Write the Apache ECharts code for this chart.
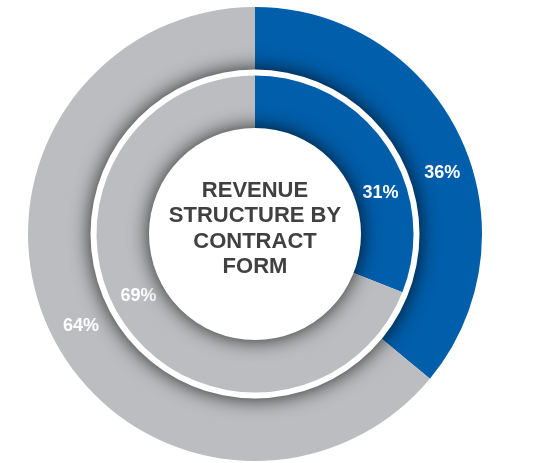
<!DOCTYPE html>
<html>
<head>
<meta charset="utf-8">
<title>Revenue structure by contract form</title>
<script src="https://cdn.jsdelivr.net/npm/echarts@6/dist/echarts.min.js"></script>
<style>
  html, body { margin: 0; padding: 0; background: #ffffff; }
  #chart { width: 540px; height: 463px; }
</style>
</head>
<body>
<div id="chart"></div>
<script>
// Revenue split by contract form: outer ring and inner ring
const categories = ['Contract form A', 'Contract form B'];
const outerValues = [36, 64];
const innerValues = [31, 69];
const centerTitle = ['REVENUE', 'STRUCTURE BY', 'CONTRACT', 'FORM'];

const BLUE = '#005EAB';
const GREY = '#BCBDC0';
const CX = 255, CY = 234;

const OUTER_R = [160, 227];
const GAP_R = 164.5;
const INNER_R = [100, 158.5];
const HOLE_R = 106;

// Bearing (deg clockwise from 12 o'clock) at which each slice's label sits
const LABEL_BEARING = [72, 242];

function ringLabelLayout(radius) {
  return function (params) {
    const a = LABEL_BEARING[params.dataIndex] * Math.PI / 180;
    return {
      x: CX + radius * Math.sin(a),
      y: CY - radius * Math.cos(a),
      align: 'center',
      verticalAlign: 'middle'
    };
  };
}

const labelStyle = {
  show: true,
  position: 'inside',
  formatter: '{c}%',
  color: '#ffffff',
  fontFamily: 'Liberation Sans, Arial, sans-serif',
  fontWeight: 'bold',
  fontSize: 18
};

function ringData(values) {
  return values.map((v, i) => ({
    name: categories[i],
    value: v,
    itemStyle: { color: i === 0 ? BLUE : GREY }
  }));
}

// White disk that casts a soft shadow onto the ring beneath it
function whiteDisk(r, z) {
  return {
    type: 'pie',
    center: [CX, CY],
    radius: [0, r],
    z: z,
    silent: true,
    label: { show: false },
    labelLine: { show: false },
    emphasis: { disabled: true },
    itemStyle: {
      color: '#ffffff',
      shadowBlur: 20,
      shadowColor: 'rgba(0,0,0,0.8)'
    },
    data: [{ value: 1 }]
  };
}

const chart = echarts.init(document.getElementById('chart'), null, { renderer: 'canvas' });

chart.setOption({
  backgroundColor: '#ffffff',
  animation: false,
  series: [
    {
      type: 'pie',
      center: [CX, CY],
      radius: OUTER_R,
      startAngle: 90,
      clockwise: true,
      z: 1,
      silent: true,
      emphasis: { disabled: true },
      label: labelStyle,
      labelLine: { show: false },
      labelLayout: ringLabelLayout(197),
      data: ringData(outerValues)
    },
    whiteDisk(GAP_R, 2),
    {
      type: 'pie',
      center: [CX, CY],
      radius: INNER_R,
      startAngle: 90,
      clockwise: true,
      z: 3,
      silent: true,
      emphasis: { disabled: true },
      label: labelStyle,
      labelLine: { show: false },
      labelLayout: ringLabelLayout(132),
      data: ringData(innerValues)
    },
    whiteDisk(HOLE_R, 4)
  ],
  graphic: [
    {
      type: 'text',
      z: 10,
      x: CX,
      y: 229,
      style: {
        text: centerTitle.join('\n'),
        fill: '#404040',
        font: 'bold 22px "Liberation Sans", Arial, sans-serif',
        lineHeight: 25.6,
        align: 'center',
        verticalAlign: 'middle'
      }
    }
  ]
});
</script>
</body>
</html>
